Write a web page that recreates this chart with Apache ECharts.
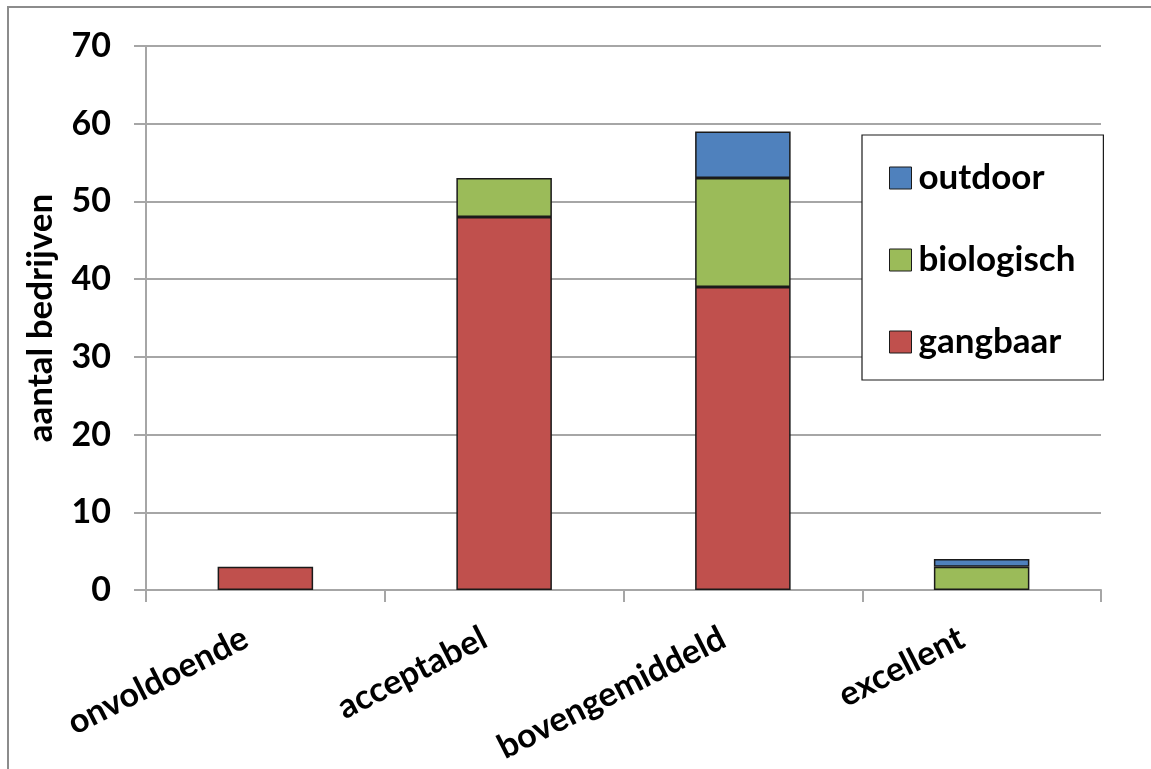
<!DOCTYPE html>
<html>
<head>
<meta charset="utf-8">
<script src="https://cdn.jsdelivr.net/npm/echarts@6/dist/echarts.min.js"></script>
<style>
html,body{margin:0;padding:0;background:#fff;}
#chart{width:1151px;height:769px;}
</style>
</head>
<body>
<div id="chart"></div>
<script>
const categories = ['onvoldoende', 'acceptabel', 'bovengemiddeld', 'excellent'];
const gangbaar = [3, 48, 39, 0];
const biologisch = [0, 5, 14, 3];
const outdoor = [0, 0, 6, 1];
const yTicks = { min: 0, max: 70, interval: 10 };
const yTitle = 'aantal bedrijven';

const FONT = 'Lato';
const chart = echarts.init(document.getElementById('chart'), null, { renderer: 'canvas' });
const barStyle = (color) => ({ color: color, borderColor: '#1a1a1a', borderWidth: 1.5 });
// zero segments are not drawn (no empty outline)
const seg = (arr) => arr.map(v => (v === 0 ? '-' : v));

chart.setOption({
  backgroundColor: '#ffffff',
  animation: false,
  graphic: [{
    type: 'rect',
    shape: { x: 8, y: 7, width: 1300, height: 900 },
    style: { fill: 'none', stroke: '#8c8c8c', lineWidth: 2 },
    silent: true
  }],
  grid: { left: 146, right: 50, top: 46, bottom: 179 },
  legend: {
    orient: 'vertical',
    left: 862,
    top: 135,
    data: ['outdoor', 'biologisch', 'gangbaar'],
    backgroundColor: '#ffffff',
    borderColor: '#1a1a1a',
    borderWidth: 1.2,
    padding: [23, 28, 18, 27],
    itemGap: 42,
    itemWidth: 22,
    itemHeight: 22,
    icon: 'rect',
    itemStyle: { borderColor: '#1a1a1a', borderWidth: 1 },
    textStyle: { fontFamily: FONT, fontWeight: 'bold', fontSize: 35, color: '#000', lineHeight: 40, padding: [0, 0, 0, 2] }
  },
  xAxis: {
    type: 'category',
    data: categories,
    axisLine: { lineStyle: { color: '#a6a6a6', width: 2 } },
    axisTick: { show: true, length: 12, lineStyle: { color: '#a6a6a6', width: 2 } },
    axisLabel: { rotate: 27, margin: 36, padding: [0, 22, 0, 0], fontFamily: FONT, fontWeight: 'bold', fontSize: 34, color: '#000' }
  },
  yAxis: {
    type: 'value',
    min: yTicks.min,
    max: yTicks.max,
    interval: yTicks.interval,
    name: yTitle,
    nameLocation: 'middle',
    nameGap: 88,
    nameTextStyle: { fontFamily: FONT, fontWeight: 'bold', fontSize: 35, color: '#000' },
    axisLine: { show: true, lineStyle: { color: '#a6a6a6', width: 2 } },
    axisTick: { show: true, inside: false, length: 12, lineStyle: { color: '#a6a6a6', width: 2 } },
    splitLine: { show: true, lineStyle: { color: '#a6a6a6', width: 2 } },
    axisLabel: { margin: 35, fontFamily: FONT, fontWeight: 'bold', fontSize: 34, color: '#000' }
  },
  series: [
    { name: 'gangbaar', type: 'bar', stack: 'total', data: seg(gangbaar), barWidth: '40%', itemStyle: barStyle('#C0504D') },
    { name: 'biologisch', type: 'bar', stack: 'total', data: seg(biologisch), barWidth: '40%', itemStyle: barStyle('#9BBB59') },
    { name: 'outdoor', type: 'bar', stack: 'total', data: seg(outdoor), barWidth: '40%', itemStyle: barStyle('#4F81BD') }
  ]
});
</script>
</body>
</html>
